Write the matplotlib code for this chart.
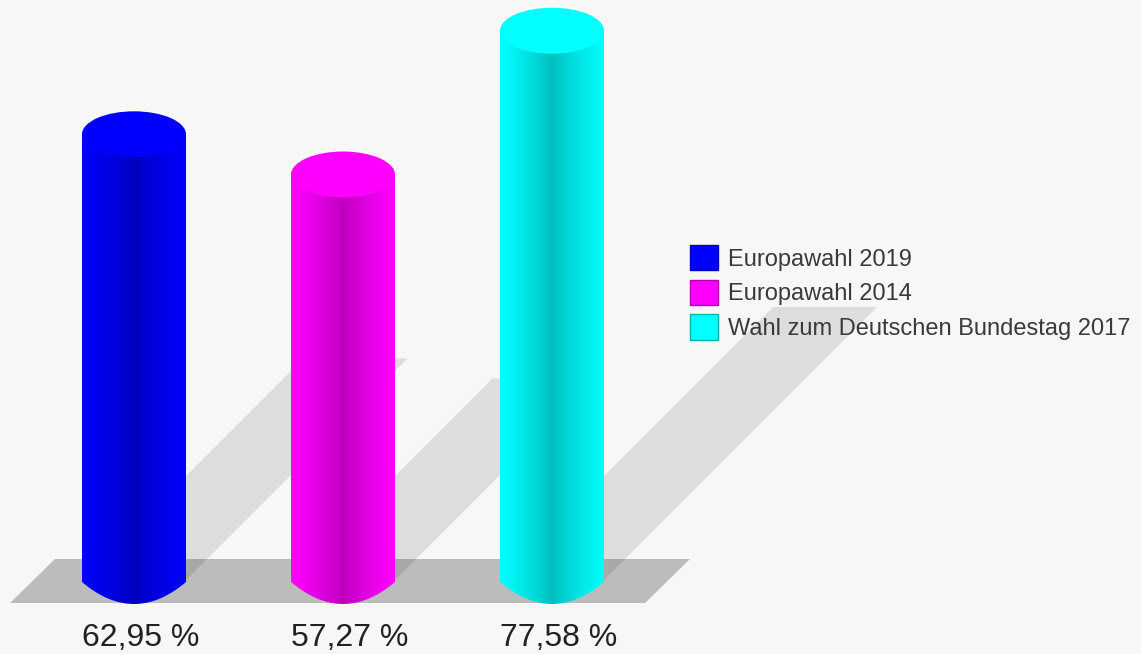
import numpy as np
import matplotlib
matplotlib.use("Agg")
import matplotlib.pyplot as plt
from matplotlib.colors import to_rgb
from matplotlib.patches import Ellipse, Polygon, Patch

labels = ["Europawahl 2019", "Europawahl 2014", "Wahl zum Deutschen Bundestag 2017"]
values = [62.95, 57.27, 77.58]
value_labels = ["62,95 %", "57,27 %", "77,58 %"]
colors = ["#0000ff", "#ff00ff", "#00ffff"]

plt.rcParams["font.family"] = ["Liberation Sans", "DejaVu Sans"]

# one bar step is 209 px, one percent is 7.08 px
step_px = 209.0
pct_px = 7.08
half_w = 52 / step_px
cap_h = 23 / pct_px
corner = 2 / pct_px
foot_h = 22 / pct_px
shadow_y = 0.497  # shadow rise per percent, in percent
shadow_x = shadow_y * pct_px / step_px

fig = plt.figure(figsize=(11.41, 6.54), dpi=100, facecolor="#f7f7f7")
ax = fig.add_axes([0, 0, 1, 1])
ax.axis("off")
xlim = (-134 / step_px, (1141 - 134) / step_px)
ylim = (-74 / pct_px, 580 / pct_px)

# floor
floor_front = -23 / pct_px
floor_back = 21 / pct_px
floor_l = -124 / step_px
floor_r = 511 / step_px
floor_skew = 45 / step_px
ax.add_patch(Polygon([(floor_l, floor_front), (floor_r, floor_front),
                      (floor_r + floor_skew, floor_back), (floor_l + floor_skew, floor_back)],
                     fc="black", alpha=0.236, ec="none", zorder=1))

for i, v in enumerate(values):
    # shadow going back to the right
    dx = v * shadow_x
    dy = v * shadow_y
    ax.add_patch(Polygon([(i - half_w, 0), (i + half_w, 0), (i + half_w + dx, dy), (i - half_w + dx, dy)],
                         fc="black", alpha=0.1, ec="none", zorder=2))

    # cylinder body with a dark middle
    t = np.linspace(-1, 1, 256)
    shade = 0.74 + 0.26 * np.abs(t) ** 0.8
    rgb = np.array(to_rgb(colors[i]))
    img = (shade[:, None] * rgb)[None, :, :]
    im = ax.imshow(img, extent=[i - half_w, i + half_w, -corner - foot_h, v], aspect="auto",
                   interpolation="bilinear", zorder=3)
    s = np.linspace(-1, 1, 60)
    foot = [(i + half_w * a, -corner - foot_h * (1 - a ** 2)) for a in s]
    clip = Polygon([(i - half_w, v)] + foot + [(i + half_w, v)], transform=ax.transData)
    im.set_clip_path(clip)

    # top of the cylinder
    ax.add_patch(Ellipse((i, v), 2 * half_w, 2 * cap_h, fc=colors[i], ec="none", zorder=4))

    ax.text(i - half_w, -57.5 / pct_px, value_labels[i], ha="left", va="center",
            fontsize=23, color="#222222", zorder=5)

handles = [Patch(fc=c, ec=tuple(0.7 * np.array(to_rgb(c))), lw=1) for c in colors]
ax.legend(handles, labels, loc="upper left", bbox_to_anchor=(690 / 1141, 1 - 245 / 654),
          bbox_transform=fig.transFigure, frameon=False, fontsize=17, labelcolor="#3a3a3a",
          handlelength=1.19, handleheight=1.27, handletextpad=0.42, labelspacing=0.385,
          borderpad=0, borderaxespad=0)

ax.set_xlim(xlim)
ax.set_ylim(ylim)
fig.savefig("out.png", dpi=100, facecolor=fig.get_facecolor())
